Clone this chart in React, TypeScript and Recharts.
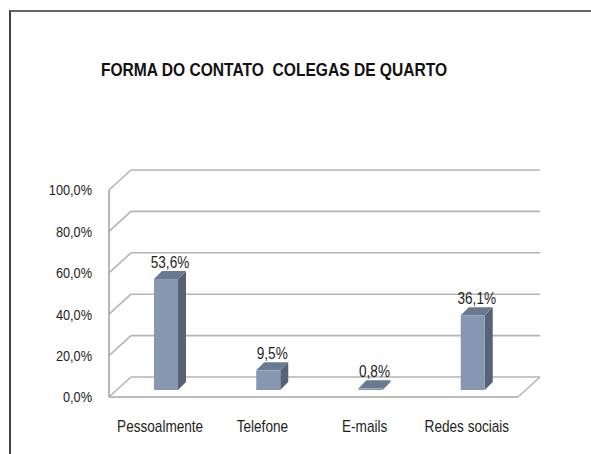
import { BarChart, Bar, XAxis, YAxis, CartesianGrid, LabelList } from 'recharts';

const categories = ['Pessoalmente', 'Telefone', 'E-mails', 'Redes sociais'];
const percentages = [53.6, 9.5, 0.8, 36.1];
const yTicks = [0, 20, 40, 60, 80, 100];

const data = categories.map((cat, i) => ({ cat, value: percentages[i] }));

const FONT = "'Liberation Sans', Arial, sans-serif";
const NARROW = 0.85; // squeeze text horizontally, Calibri-like
const C = {
  front: '#8597B1',
  side: '#566377',
  top: '#687A92',
  grid: '#b4b4b4',
  text: '#1e1e1e',
};

// wall depth (back wall offset) and bar depth
const WX = 22;
const WY = 20;
const BD = 8;
const SX = 6;
const SY = -7;
const FLOOR_Y = 397;

const pct = (v: number) => v.toFixed(1).replace('.', ',') + '%';

const NText = ({ x, y, anchor, size, dy, children }: any) => (
  <text
    transform={`translate(${x} ${y}) scale(${NARROW} 1)`}
    textAnchor={anchor}
    dy={dy}
    fontFamily={FONT}
    fontSize={size}
    fill={C.text}
  >
    {children}
  </text>
);

const wallLine = (p: any) => {
  const { x1, x2, y1, index } = p;
  const bottom = Math.abs(y1 - FLOOR_Y) < 1;
  return (
    <g key={`wall-${index}`}>
      <line x1={x1} y1={y1} x2={x1 + WX} y2={y1 - WY} stroke={C.grid} strokeWidth={1.6} />
      <line x1={x1 + WX} y1={y1 - WY} x2={x2 + WX} y2={y1 - WY} stroke={C.grid} strokeWidth={1.6} />
      {bottom && <line x1={x2} y1={y1} x2={x2 + WX} y2={y1 - WY} stroke={C.grid} strokeWidth={1.6} />}
    </g>
  );
};

const Bar3D = (p: any) => {
  const x = p.x + SX;
  const y = p.y + SY;
  const w = p.width;
  const h = p.height;
  return (
    <g>
      <polygon points={`${x + w},${y} ${x + w + BD},${y - BD} ${x + w + BD},${y + h - BD} ${x + w},${y + h}`} fill={C.side} />
      <polygon points={`${x},${y} ${x + BD},${y - BD} ${x + w + BD},${y - BD} ${x + w},${y}`} fill={C.top} />
      <rect x={x} y={y} width={w} height={h} fill={C.front} />
    </g>
  );
};

const ValueLabel = (p: any) => (
  <NText x={p.x + p.width / 2 + SX + BD / 2} y={p.y + SY - BD - 3} anchor="middle" size={16}>
    {pct(Number(p.value))}
  </NText>
);

const CatTick = (p: any) => (
  <NText x={p.x} y={p.y} anchor="middle" size={16} dy="0.71em">
    {p.payload.value}
  </NText>
);

const PctTick = (p: any) => (
  <NText x={p.x} y={p.y} anchor="end" size={15} dy="0.355em">
    {pct(Number(p.payload.value))}
  </NText>
);

export default function App() {
  return (
    <div style={{ position: 'absolute', left: 0, top: 0, width: 591, height: 454, background: '#fff', overflow: 'hidden' }}>
      <div style={{ position: 'absolute', left: 9, top: 10, width: 600, height: 460, borderTop: '2px solid #666', borderLeft: '2px solid #444' }} />
      <div
        style={{
          position: 'absolute', left: 0, top: 60, width: 548, textAlign: 'center',
          fontFamily: FONT, fontWeight: 700, fontSize: 19, lineHeight: '19px', color: '#111', whiteSpace: 'pre',
          transform: 'scaleX(0.82)', transformOrigin: '274px 0',
        }}
      >
        {'FORMA DO CONTATO  COLEGAS DE QUARTO'}
      </div>
      <div style={{ position: 'absolute', left: 0, top: 0 }}>
        <BarChart width={591} height={454} data={data} margin={{ top: 190, right: 73, bottom: 17, left: 49 }}>
          <CartesianGrid vertical={false} horizontal={wallLine} />
          <XAxis
            dataKey="cat"
            height={40}
            axisLine={{ stroke: '#a6a6a6', strokeWidth: 1.6 }}
            tickLine={false}
            tickSize={0}
            tickMargin={24}
            interval={0}
            tick={CatTick}
          />
          <YAxis
            width={60}
            domain={[0, 100]}
            ticks={yTicks}
            axisLine={{ stroke: '#a6a6a6', strokeWidth: 1.6 }}
            tickLine={false}
            tickSize={0}
            tickMargin={17}
            tick={PctTick}
          />
          <Bar dataKey="value" barSize={24} shape={Bar3D} isAnimationActive={false}>
            <LabelList dataKey="value" content={ValueLabel} />
          </Bar>
        </BarChart>
      </div>
    </div>
  );
}
